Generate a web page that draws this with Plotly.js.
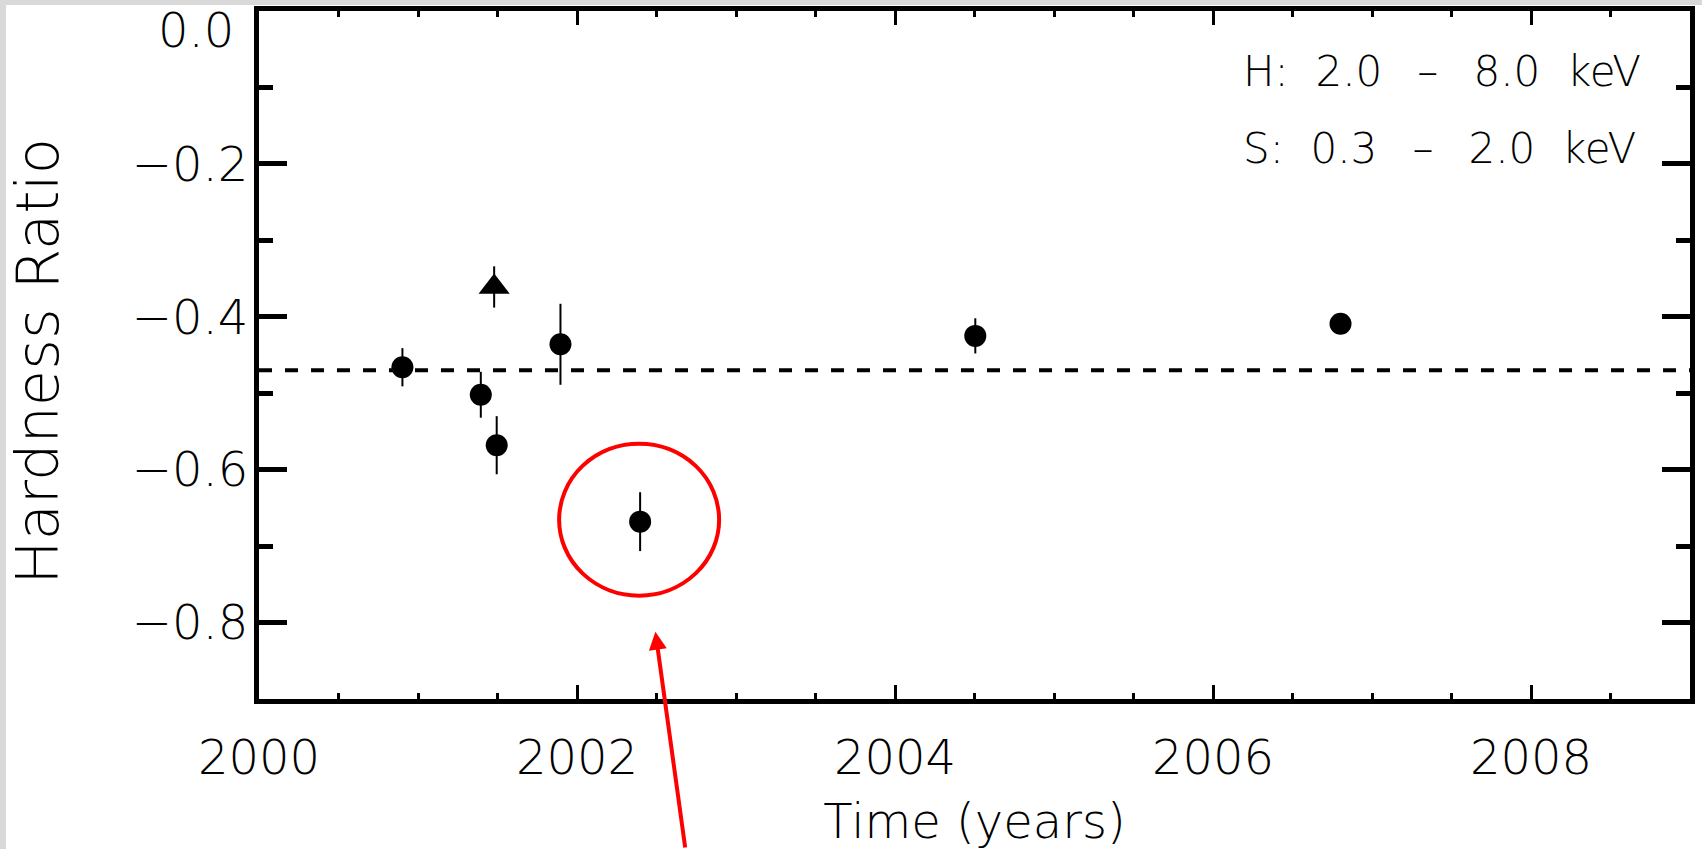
<!DOCTYPE html>
<html>
<head>
<meta charset="utf-8">
<script src="https://cdn.plot.ly/plotly-3.0.1.min.js"></script>
<style>
html,body{margin:0;padding:0;background:#ffffff;width:1702px;height:849px;overflow:hidden}
#chart{position:absolute;left:0;top:0;width:1702px;height:849px}
</style>
</head>
<body>
<div id="chart"></div>
<script>
// ---- data ----
const circleTimes  = [2000.902, 2001.395, 2001.495, 2001.896, 2002.397, 2004.505, 2006.802];
const circleHR     = [-0.466, -0.502, -0.568, -0.436, -0.668, -0.425, -0.409];
const circleErr    = [0.025, 0.030, 0.038, 0.053, 0.0385, 0.023, 0.010];
const triangleTimes = [2001.479];
const triangleHR    = [-0.361];
const triangleErr   = [0.027];
const meanHR = -0.47;
const highlightTime = 2002.397;
const highlightHR   = -0.668;
const arrowTipTime = 2002.493;
const arrowTipHR   = -0.812;
const xTickVals = [2000, 2002, 2004, 2006, 2008];
const xTickText = ['2000', '2002', '2004', '2006', '2008'];
const yTickVals = [-0.8, -0.6, -0.4, -0.2];
const yTickText = ['\u22120.8', '\u22120.6', '\u22120.4', '\u22120.2'];
const topYLabel = '0.0';
const xTitle = 'Time (years)';
const yTitle = 'Hardness Ratio';
const bandH = 'H:\u00a0\u00a02.0\u00a0\u00a0\u2009\u2013\u00a0\u00a0\u20098.0\u00a0\u00a0keV';
const bandS = 'S:\u00a0\u00a00.3\u00a0\u00a0\u2009\u2013\u00a0\u00a0\u20092.0\u00a0\u00a0keV';

const FONT = '"DejaVu Sans", sans-serif';
const W = 200;
const tickFont = {family: FONT, size: 48, color: '#000', weight: W};
const GRAY = '#d9d9d9';

const traces = [
  {
    type: 'scatter', mode: 'markers', x: circleTimes, y: circleHR,
    marker: {symbol: 'circle', size: 22, color: '#000'},
    error_y: {type: 'data', array: circleErr, visible: true, width: 0, thickness: 2, color: '#000'},
    showlegend: false, hoverinfo: 'x+y'
  },
  {
    type: 'scatter', mode: 'markers', x: triangleTimes, y: triangleHR,
    marker: {symbol: 'triangle-up', size: 27, color: '#000'},
    error_y: {type: 'data', array: triangleErr, visible: true, width: 0, thickness: 2, color: '#000'},
    showlegend: false, hoverinfo: 'x+y'
  }
];

const layout = {
  width: 1702, height: 849,
  margin: {l: 259, r: 12, t: 11, b: 150},
  paper_bgcolor: '#ffffff', plot_bgcolor: '#ffffff',
  showlegend: false,
  xaxis: {
    range: [2000, 2009], tickmode: 'array', tickvals: xTickVals, ticktext: xTickText,
    ticks: 'inside', ticklen: 14, tickwidth: 3, tickcolor: '#000',
    minor: {tickmode: 'linear', tick0: 2000, dtick: 0.5, ticks: 'inside', ticklen: 6, tickwidth: 3, tickcolor: '#000', showgrid: false},
    showline: true, linewidth: 5, linecolor: '#000', mirror: 'allticks',
    showgrid: false, zeroline: false, tickfont: tickFont, ticklabelstandoff: 12,
    title: {text: xTitle, font: {family: FONT, size: 48, color: '#000', weight: W}, standoff: 23}
  },
  yaxis: {
    range: [-0.9, 0], tickmode: 'array', tickvals: yTickVals, ticktext: yTickText,
    ticks: 'inside', ticklen: 28, tickwidth: 5, tickcolor: '#000',
    minor: {tickmode: 'linear', tick0: 0, dtick: 0.1, ticks: 'inside', ticklen: 14, tickwidth: 5, tickcolor: '#000', showgrid: false},
    showline: true, linewidth: 5, linecolor: '#000', mirror: 'allticks',
    showgrid: false, zeroline: false, tickfont: tickFont, ticklabelstandoff: -4
  },
  shapes: [
    // light grey frame strips at the picture's left and top edges
    {type: 'rect', xref: 'paper', yref: 'paper', x0: -0.182, x1: -0.1768, y0: -0.23, y1: 1.02,
     fillcolor: GRAY, line: {width: 0}, layer: 'below'},
    {type: 'rect', xref: 'paper', yref: 'paper', x0: -0.182, x1: 1.01, y0: 1.0087, y1: 1.02,
     fillcolor: GRAY, line: {width: 0}, layer: 'below'},
    {type: 'line', xref: 'paper', x0: 0, x1: 1, yref: 'y', y0: meanHR, y1: meanHR,
     line: {color: '#000', width: 4, dash: '13px,13px'}, layer: 'below'},
    {type: 'circle', xref: 'x', yref: 'y', xsizemode: 'pixel', ysizemode: 'pixel',
     xanchor: highlightTime, yanchor: highlightHR, x0: -81, x1: 79, y0: -74, y1: 78,
     line: {color: '#ff0000', width: 4}}
  ],
  annotations: [
    {xref: 'paper', yref: 'paper', x: -0.1544, y: 0.4903, xanchor: 'center', yanchor: 'middle',
     textangle: -90, text: yTitle, showarrow: false,
     font: {family: FONT, size: 59, color: '#000', weight: W}},
    {xref: 'paper', yref: 'paper', x: 0, y: 1, xanchor: 'right', yanchor: 'top',
     xshift: -23, yshift: 11, text: topYLabel, showarrow: false, font: tickFont},
    {xref: 'paper', yref: 'paper', x: 0.6862, y: 0.9114, xanchor: 'left', yanchor: 'middle',
     text: bandH, showarrow: false, font: {family: FONT, size: 42, color: '#000', weight: W}},
    {xref: 'paper', yref: 'paper', x: 0.6862, y: 0.7999, xanchor: 'left', yanchor: 'middle',
     text: bandS, showarrow: false, font: {family: FONT, size: 42, color: '#000', weight: W}},
    {xref: 'x', yref: 'y', x: arrowTipTime, y: arrowTipHR, ax: 30, ay: 240, text: '',
     showarrow: true, arrowhead: 2, arrowsize: 0.9, arrowwidth: 4, arrowcolor: '#ff0000', standoff: 0}
  ]
};

Plotly.newPlot('chart', traces, layout, {displayModeBar: false, staticPlot: true});
</script>
</body>
</html>
